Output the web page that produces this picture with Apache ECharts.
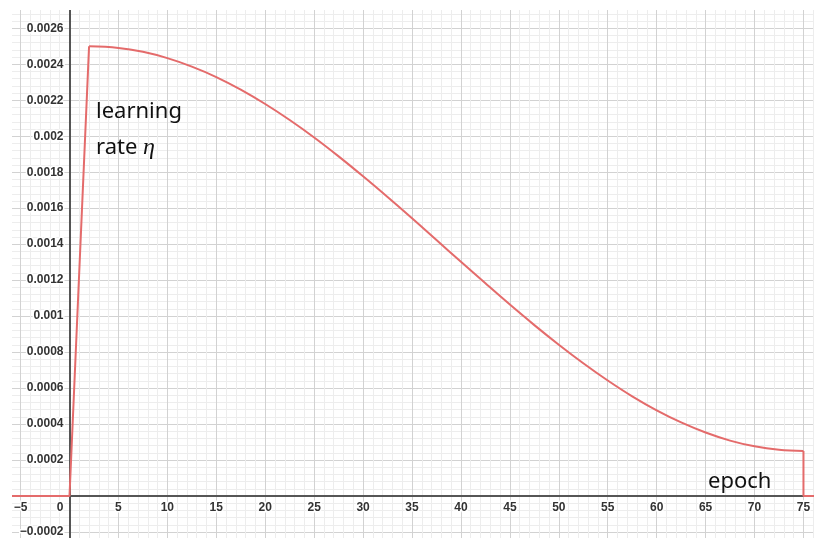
<!DOCTYPE html>
<html><head><meta charset="utf-8">
<script src="https://cdn.jsdelivr.net/npm/echarts@6/dist/echarts.min.js"></script>
<style>html,body{margin:0;padding:0;background:#fff}#c{width:814px;height:538px}</style>
</head><body><div id="c"></div>
<script>
// ---- data ----
const warmupEpochs = [-10, 0, 2];
const warmupLR     = [0, 0, 0.0025];
const cosineEpochs = [2, 5, 7.5, 10, 12.5, 15, 17.5, 20, 22.5, 25, 27.5, 30, 32.5, 35, 37.5, 40,
                      42.5, 45, 47.5, 50, 52.5, 55, 57.5, 60, 62.5, 65, 67.5, 70, 72.5, 75];
const cosineLR     = [0.0025, 0.002491, 0.002469, 0.002434, 0.002387, 0.002329, 0.002259, 0.002179,
                      0.002090, 0.001993, 0.001888, 0.001777, 0.001662, 0.001544, 0.001423, 0.001302,
                      0.001182, 0.001064, 0.000950, 0.000841, 0.000738, 0.000642, 0.000554, 0.000476,
                      0.000409, 0.000353, 0.000308, 0.000276, 0.000257, 0.00025];
const tailEpochs   = [75, 75, 80];
const tailLR       = [0.00025, 0, 0];
const xTickStep = 5;
const yTickStep = 0.0002;
const yAxisText = ['learning', 'rate '];
const etaSymbol = 'η';
const xAxisText = 'epoch';

const zip = (xs, ys) => xs.map((x, i) => [x, ys[i]]);
const fmt = v => String(Number(v.toPrecision(6))).replace('-', '\u2212');

const lineColor = '#e46b6b';
const chart = echarts.init(document.getElementById('c'), null, {renderer: 'canvas'});
const labelStyle = {
  color: '#333', fontFamily: 'Liberation Sans, Arial, sans-serif', fontWeight: 'bold', fontSize: 12,
  textBorderColor: '#fff', textBorderWidth: 3
};
chart.setOption({
  animation: false,
  backgroundColor: '#fff',
  grid: {left: -28.37, right: -38.4, top: -7.7, bottom: -29.96, containLabel: false, outerBoundsMode: 'none'},
  xAxis: {
    type: 'value', min: -10, max: 80, interval: xTickStep, position: 'bottom', offset: -71.96,
    axisLine: {show: true, onZero: false, lineStyle: {color: '#555', width: 2}},
    axisTick: {show: false},
    axisLabel: Object.assign({}, labelStyle, {
      margin: 6, hideOverlap: false,
      formatter: v => v === 0 ? '{z|0}' : fmt(v),
      rich: {z: Object.assign({}, labelStyle, {padding: [0, 19, 0, 0]})}
    }),
    splitLine: {show: true, lineStyle: {color: '#d2d2d2', width: 1}},
    minorTick: {show: false, splitNumber: 5},
    minorSplitLine: {show: true, lineStyle: {color: '#ededed', width: 1}}
  },
  yAxis: {
    type: 'value', min: -0.0004, max: 0.0028, interval: yTickStep, position: 'left', offset: -97.87,
    axisLine: {show: true, onZero: false, lineStyle: {color: '#555', width: 2}},
    axisTick: {show: false},
    axisLabel: Object.assign({}, labelStyle, {
      margin: 6, hideOverlap: false,
      formatter: v => v === 0 ? '' : fmt(v)
    }),
    splitLine: {show: true, lineStyle: {color: '#d2d2d2', width: 1}},
    minorTick: {show: false, splitNumber: 5},
    minorSplitLine: {show: true, lineStyle: {color: '#ededed', width: 1}}
  },
  series: [
    {type: 'line', data: zip(warmupEpochs, warmupLR), symbol: 'none',
     lineStyle: {color: lineColor, width: 2}, z: 5},
    {type: 'line', data: zip(cosineEpochs, cosineLR), symbol: 'none', smooth: 0.4,
     lineStyle: {color: lineColor, width: 2}, z: 5},
    {type: 'line', data: zip(tailEpochs, tailLR), symbol: 'none',
     lineStyle: {color: lineColor, width: 2}, z: 5}
  ],
  graphic: [
    {type: 'rect', left: 0, top: 0, shape: {width: 12, height: 538}, style: {fill: '#fff'}, z: 100},
    {type: 'rect', left: 0, top: 0, shape: {width: 814, height: 10}, style: {fill: '#fff'}, z: 100},
    {type: 'text', x: 96, y: 112, z: 101,
     style: {text: yAxisText[0], fontFamily: 'Noto Sans', fontSize: 22, fill: '#111', verticalAlign: 'middle'}},
    {type: 'text', x: 96, y: 147.5, z: 101,
     style: {text: yAxisText[1] + '{e|' + etaSymbol + '}', fontFamily: 'Noto Sans', fontSize: 22, fill: '#111',
             verticalAlign: 'middle',
             rich: {e: {fontFamily: 'Liberation Serif', fontStyle: 'italic', fontSize: 24, fill: '#111'}}}},
    {type: 'text', x: 708, y: 482, z: 101,
     style: {text: xAxisText, fontFamily: 'Noto Sans', fontSize: 22, fill: '#111', verticalAlign: 'middle'}}
  ]
});
</script></body></html>
